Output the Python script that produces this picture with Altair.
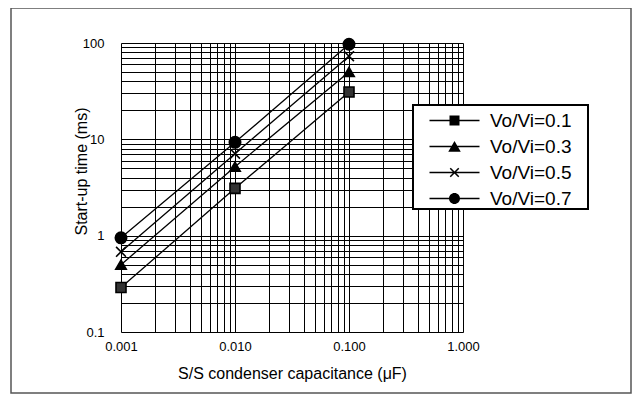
import altair as alt
import pandas as pd

# ---- data ----
capacitance = [0.001, 0.01, 0.1]
series_names = ["Vo/Vi=0.1", "Vo/Vi=0.3", "Vo/Vi=0.5", "Vo/Vi=0.7"]
t_01 = [0.29, 3.1, 31]
t_03 = [0.50, 5.2, 50]
t_05 = [0.68, 7.1, 73]
t_07 = [0.95, 9.3, 97]

x_ticks = [round(k * 10 ** e, 6) for e in (-3, -2, -1) for k in range(1, 10)] + [1.0]
y_ticks = [round(k * 10 ** e, 6) for e in (-1, 0, 1) for k in range(1, 10)] + [100.0]

rows = []
for name, vals in zip(series_names, [t_01, t_03, t_05, t_07]):
    for c, v in zip(capacitance, vals):
        rows.append({"cap": c, "time": v, "series": name})
df = pd.DataFrame(rows)

FONT = "Liberation Sans"

point_shapes = ["square", "triangle-up", "M-0.9,-0.9L0.9,0.9M-0.9,0.9L0.9,-0.9", "circle"]
point_fills = ["#333333", "black", "black", "black"]

# legend symbols: a filled thin bar (the line) plus the filled marker
BAR = "M-5,-0.14L5,-0.14L5,0.14L-5,0.14Z"
legend_shapes = [
    BAR + "M-1,-1L1,-1L1,1L-1,1Z",
    BAR + "M0,-1.1L1.25,1.05L-1.25,1.05Z",
    BAR + "M-0.744,-0.956L0.956,0.744L0.744,0.956L-0.956,-0.744Z"
          "M-0.956,0.744L0.744,-0.956L0.956,-0.744L-0.744,0.956Z",
    BAR + "M-1.1,0A1.1,1.1 0 1,1 1.1,0A1.1,1.1 0 1,1 -1.1,0Z",
]

x_enc = alt.X(
    "cap:Q",
    scale=alt.Scale(type="log", domain=[0.001, 1.0], nice=False),
    axis=alt.Axis(
        values=x_ticks,
        labelExpr="indexof(['0.001','0.01','0.1','1'], toString(datum.value)) >= 0 ? format(datum.value, '.3f') : ''",
        title="S/S condenser capacitance (μF)",
        grid=True, gridColor="black", gridOpacity=1, gridWidth=1,
        ticks=False, domain=False, labelFlush=False, labelOverlap=False,
        labelFont=FONT, labelFontSize=13, labelColor="black", labelPadding=8,
        titleFont=FONT, titleFontSize=16, titleFontWeight="normal", titleColor="black", titlePadding=12,
    ),
)
y_enc = alt.Y(
    "time:Q",
    scale=alt.Scale(type="log", domain=[0.1, 100], nice=False),
    axis=alt.Axis(
        values=y_ticks,
        labelExpr="indexof(['0.1','1','10','100'], toString(datum.value)) >= 0 ? toString(datum.value) : ''",
        title="Start-up time (ms)",
        grid=True, gridColor="black", gridOpacity=1, gridWidth=1,
        ticks=False, domain=False, labelOverlap=False,
        labelFont=FONT, labelFontSize=13, labelColor="black", labelPadding=17,
        titleFont=FONT, titleFontSize=16, titleFontWeight="normal", titleColor="black",
        titleX=-40, titleY=128, titleBaseline="middle", titleAngle=270, titleAlign="center",
    ),
)

base = alt.Chart(df)

lines = base.mark_line(color="black", strokeWidth=1.3).encode(
    x=x_enc, y=y_enc, detail="series:N"
)

points = base.mark_point(filled=True, stroke="black", strokeWidth=1.6, opacity=1).encode(
    x="cap:Q",
    y="time:Q",
    shape=alt.Shape("series:N", scale=alt.Scale(domain=series_names, range=point_shapes), legend=None),
    size=alt.Size("series:N", scale=alt.Scale(domain=series_names, range=[100, 130, 70, 121]), legend=None),
    fill=alt.Fill("series:N", scale=alt.Scale(domain=series_names, range=point_fills), legend=None),
)

legend_layer = base.mark_point(filled=True, color="black", opacity=0).encode(
    x="cap:Q",
    y="time:Q",
    shape=alt.Shape(
        "series:N",
        scale=alt.Scale(domain=series_names, range=legend_shapes),
        legend=alt.Legend(
            title=None, orient="none", legendX=292, legendY=62,
            padding=6, rowPadding=6,
            symbolSize=100, symbolOffset=26, labelOffset=26,
            symbolFillColor="black", symbolOpacity=1,
            labelFont=FONT, labelFontSize=19, labelColor="black",
        ),
    ),
)

# decorative frames (legend box and outer figure border)
legend_box = alt.Chart(pd.DataFrame({"f": [0]})).mark_rect(
    fill="white", stroke="black", strokeWidth=2
).encode(
    x=alt.value(292), x2=alt.value(467), y=alt.value(62), y2=alt.value(166)
)

frame = alt.Chart(pd.DataFrame({"f": [0]})).mark_rect(
    fill=None, stroke="#555555", strokeWidth=1.5
).encode(
    x=alt.value(-110), x2=alt.value(510), y=alt.value(-35), y2=alt.value(350)
)

chart = alt.layer(frame, lines, points, legend_box, legend_layer).resolve_scale(
    shape="independent", size="independent", fill="independent"
).properties(
    width=342, height=289,
    autosize=alt.AutoSizeParams(type="none"),
    padding={"left": 113, "top": 35, "right": 170, "bottom": 62},
).configure_view(stroke=None).configure(background="white")

chart.save("out.html", embed_options={"renderer": "svg", "actions": False})
